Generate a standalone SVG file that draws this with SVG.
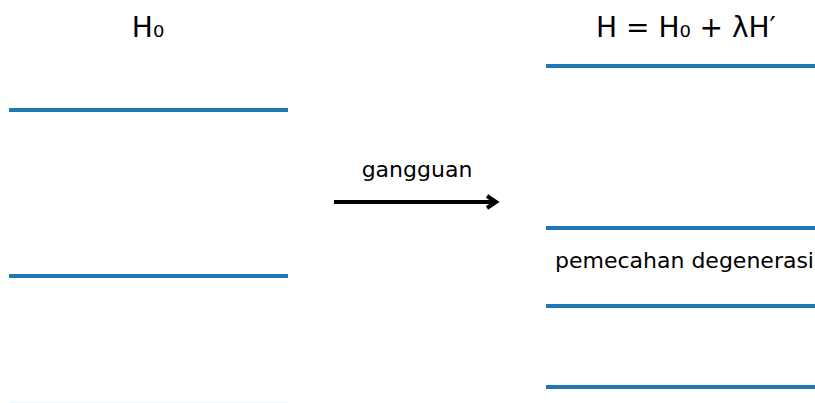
<svg xmlns="http://www.w3.org/2000/svg" width="815" height="403" viewBox="0 0 815 403">
<style>
.lvl{stroke:#1f77b4;stroke-width:4;fill:none}
.t{font-family:"DejaVu Sans",sans-serif;fill:#000}
</style>
<rect width="815" height="403" fill="#fff"/>
<g id="left">
<text class="t" x="148" y="37" font-size="28" text-anchor="middle">H₀</text>
<line class="lvl" x1="9" y1="110" x2="288" y2="110"/>
<line class="lvl" x1="9" y1="276" x2="288" y2="276"/>
<line x1="9" y1="402.5" x2="288" y2="402.5" stroke="#1f77b4" stroke-opacity="0.06" stroke-width="1"/>
</g>
<g id="right">
<text class="t" x="686" y="37" font-size="28" text-anchor="middle">H = H₀ + λH′</text>
<line class="lvl" x1="546" y1="66" x2="815" y2="66"/>
<line class="lvl" x1="546" y1="228" x2="815" y2="228"/>
<text class="t" x="555" y="268" font-size="22">pemecahan degenerasi</text>
<line class="lvl" x1="546" y1="306" x2="815" y2="306"/>
<line class="lvl" x1="546" y1="387" x2="815" y2="387"/>
</g>
<g id="connectors">
<text class="t" x="417" y="177" font-size="22" text-anchor="middle">gangguan</text>
<line x1="334" y1="202" x2="496" y2="202" stroke="#000" stroke-width="4"/>
<polyline points="487,196 496,202 487,208" fill="none" stroke="#000" stroke-width="4" stroke-linejoin="miter"/>
</g>
</svg>
